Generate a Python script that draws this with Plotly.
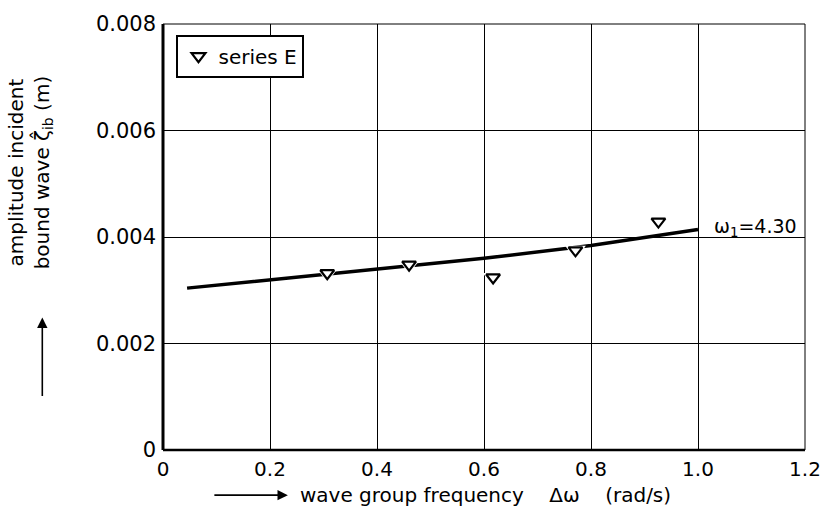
import plotly.graph_objects as go

# measured points (series E)
freq_pts = [0.307, 0.460, 0.617, 0.771, 0.926]
amp_pts = [0.00332, 0.00348, 0.00324, 0.00375, 0.00429]

# fitted curve omega_1 = 4.30
freq_line = [0.045, 0.2, 0.4, 0.6, 0.8, 1.0]
amp_line = [0.00304, 0.00320, 0.00339, 0.00360, 0.00384, 0.00414]

x_ticks = [0, 0.2, 0.4, 0.6, 0.8, 1.0, 1.2]
x_ticktext = ["0", "0.2", "0.4", "0.6", "0.8", "1.0", "1.2"]
y_ticks = [0, 0.002, 0.004, 0.006, 0.008]
y_ticktext = ["0", "0.002", "0.004", "0.006", "0.008"]

FONT = "DejaVu Sans"
NB = "\u00a0"

fig = go.Figure()
fig.add_trace(go.Scatter(x=freq_line, y=amp_line, mode="lines",
                         line=dict(color="black", width=3.5), showlegend=False,
                         hoverinfo="skip"))
# white halo behind markers to create gaps in the line
fig.add_trace(go.Scatter(x=freq_pts, y=amp_pts, mode="markers",
                         marker=dict(symbol="triangle-down", size=18, color="white",
                                     line=dict(width=0)),
                         showlegend=False, hoverinfo="skip"))
fig.add_trace(go.Scatter(x=freq_pts, y=amp_pts, mode="markers", name="series E",
                         marker=dict(symbol="triangle-down", size=12, color="white",
                                     line=dict(color="black", width=2.2))))

fig.add_annotation(x=freq_line[-1], y=amp_line[-1], xref="x", yref="y",
                   text="ω<sub>1</sub>=4.30", showarrow=False, xanchor="left",
                   yanchor="middle", xshift=14, yshift=2,
                   font=dict(family=FONT, size=19, color="black"))

# y-axis title (two lines) and arrow
fig.add_annotation(x=-0.207, y=0.652, xref="paper", yref="paper",
                   text="amplitude" + NB + "incident<br>bound" + NB + "wave" + NB + "ζ̂<sub>ib</sub>" + NB + "(m)",
                   textangle=-90, showarrow=False, xanchor="center", yanchor="middle",
                   font=dict(family=FONT, size=20, color="black"))
fig.add_annotation(x=-0.188, y=0.311, xref="paper", yref="paper", ax=0, ay=80,
                   axref="pixel", ayref="pixel", text="", showarrow=True,
                   arrowhead=2, arrowsize=1.3, arrowwidth=1.6, arrowcolor="black")

# x-axis title and arrow
fig.add_annotation(x=0.21, y=-0.106, xref="paper", yref="paper",
                   text="wave" + NB + "group" + NB + "frequency" + NB * 4 + "Δω" + NB * 4 + "(rad/s)",
                   showarrow=False, xanchor="left", yanchor="middle",
                   font=dict(family=FONT, size=20, color="black"))
fig.add_annotation(x=0.1945, y=-0.106, xref="paper", yref="paper", ax=-75, ay=0,
                   axref="pixel", ayref="pixel", text="", showarrow=True,
                   arrowhead=2, arrowsize=1.3, arrowwidth=1.6, arrowcolor="black")

# frame: thick left/bottom, thin top/right
fig.add_shape(type="line", xref="paper", yref="paper", x0=0, x1=0, y0=0, y1=1,
              line=dict(color="black", width=3))
fig.add_shape(type="line", xref="paper", yref="paper", x0=0, x1=1, y0=0, y1=0,
              line=dict(color="black", width=2.5))
fig.add_shape(type="line", xref="paper", yref="paper", x0=0, x1=1, y0=1, y1=1,
              line=dict(color="black", width=1))
fig.add_shape(type="line", xref="paper", yref="paper", x0=1, x1=1, y0=0, y1=1,
              line=dict(color="black", width=1))

fig.update_layout(
    width=833, height=512,
    margin=dict(l=163, r=17, t=16, b=62),
    paper_bgcolor="white", plot_bgcolor="white",
    font=dict(family=FONT, size=19, color="black"),
    legend=dict(x=0.021, y=0.975, xanchor="left", yanchor="top",
                bordercolor="black", borderwidth=2, bgcolor="white",
                font=dict(family=FONT, size=20, color="black"),
                itemwidth=30, tracegroupgap=0),
    xaxis=dict(range=[0, 1.2], tickvals=x_ticks, ticktext=x_ticktext,
               showgrid=True, gridcolor="black", gridwidth=1, zeroline=False,
               showline=False, ticks="", ticklabelstandoff=5,
               tickfont=dict(family=FONT, size=20, color="black")),
    yaxis=dict(range=[0, 0.008], tickvals=y_ticks, ticktext=y_ticktext,
               showgrid=True, gridcolor="black", gridwidth=1, zeroline=False,
               showline=False, ticks="", ticklabelstandoff=6,
               tickfont=dict(family=FONT, size=21, color="black")),
    showlegend=True,
)

fig.write_html("out.html")
